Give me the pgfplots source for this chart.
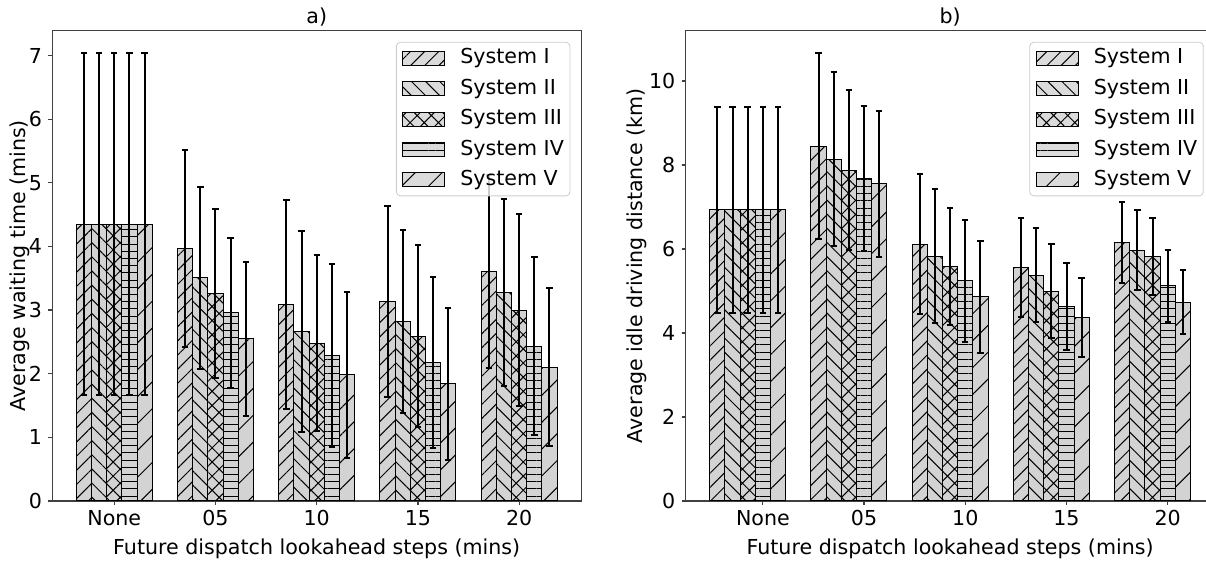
\documentclass[border=0pt]{standalone}
\usepackage{fontspec}
\setmainfont{DejaVu Sans}
\usepackage{pgfplots}
\usepackage{pgfplotstable}
\pgfplotsset{compat=1.18}
\usetikzlibrary{patterns.meta}

\definecolor{barfill}{HTML}{D3D3D3}

% mean and std per lookahead group (g: 0=None, 1=05, 2=10, 3=15, 4=20)
\pgfplotstableread{
g m1 e1 m2 e2 m3 e3 m4 e4 m5 e5
0 4.35 2.69 4.35 2.69 4.35 2.69 4.35 2.69 4.35 2.69
1 3.97 1.55 3.51 1.43 3.26 1.33 2.96 1.18 2.55 1.21
2 3.09 1.64 2.67 1.58 2.48 1.38 2.29 1.44 1.98 1.31
3 3.14 1.50 2.82 1.44 2.59 1.43 2.18 1.34 1.84 1.20
4 3.61 1.52 3.27 1.47 3.00 1.51 2.43 1.40 2.10 1.24
}\waittable

\pgfplotstableread{
g m1 e1 m2 e2 m3 e3 m4 e4 m5 e5
0 6.93 2.46 6.93 2.46 6.93 2.46 6.93 2.46 6.93 2.46
1 8.45 2.22 8.14 2.07 7.88 1.91 7.68 1.72 7.55 1.74
2 6.12 1.66 5.83 1.60 5.58 1.39 5.24 1.45 4.86 1.33
3 5.56 1.17 5.38 1.12 4.99 1.12 4.63 1.04 4.37 0.94
4 6.16 0.96 5.97 0.95 5.82 0.92 5.12 0.86 4.73 0.76
}\idletable

\pgfplotsset{
  sysbase/.style={draw=black, line width=0.5pt, fill=barfill, bar shift=0pt, bar width=0.15,
    legend image code/.code={\draw[##1, sharp corners] (0pt,-3.5pt) rectangle (21pt,3.5pt);},
    error bars/y dir=both, error bars/y explicit,
    error bars/error bar style={line width=1pt, black},
    error bars/error mark options={rotate=90, mark size=1.6pt, line width=1pt, black}},
  sysI/.style={sysbase, postaction={pattern color=black, pattern={Lines[angle=45,distance=5pt,line width=0.5pt]}}},
  sysII/.style={sysbase, postaction={pattern color=black, pattern={Lines[angle=-45,distance=5pt,line width=0.5pt]}}},
  sysIII/.style={sysbase, postaction={pattern color=black, pattern={Hatch[angle=45,distance=5pt,line width=0.5pt]}}},
  sysIV/.style={sysbase, postaction={pattern color=black, pattern={Lines[angle=0,distance=3.6pt,line width=0.5pt]}}},
  sysV/.style={sysbase, postaction={pattern color=black, pattern={Lines[angle=45,distance=9.5pt,line width=0.5pt]}}},
  panel/.style={
    scale only axis, width=264.4pt, height=235.15pt, anchor=south west,
    ybar, ymin=0,
    xtick={0,...,4}, xticklabels={None,05,10,15,20},
    tick align=outside, major tick length=2pt,
    xtick pos=bottom, ytick pos=left,
    axis line style={black!75, line width=0.6pt},
    every tick/.style={black!75, line width=0.6pt},
    /pgf/number format/assume math mode=true,
    yticklabel style={anchor=east, inner sep=0pt, xshift=-3pt},
    xticklabel style={anchor=base, inner sep=0pt, yshift=-10.5pt},
    xlabel={Future dispatch lookahead steps (mins)},
    xlabel style={at={(axis description cs:0.5,0)}, anchor=base, yshift=-26.8pt},
    every axis title/.style={at={(axis description cs:0.5,1)}, anchor=base, yshift=3.6pt},
    legend cell align=left,
    legend style={at={(1,1)}, anchor=north east, xshift=-5.4pt, yshift=-5.6pt,
      draw=black!20, rounded corners=2pt, fill=white, fill opacity=0.8, text opacity=1,
      inner sep=3pt, row sep=5.2pt, column sep=7.5pt,
      nodes={inner sep=0pt, text height=7.8pt, text depth=2.2pt}},
  },
}

\begin{document}
\begin{tikzpicture}[font=\fontsize{10.3}{12.4}\selectfont]
\path[use as bounding box] (-26.15pt,-30pt) rectangle (576.85pt,250.5pt);

\begin{axis}[panel, at={(0pt,0pt)},
  xmin=-0.6125, xmax=4.6125, ymax=7.39, ytick={0,...,7},
  title={a)},
  ylabel={Average waiting time (mins)},
  ylabel style={at={(axis description cs:-0.0605,0.5)}, anchor=center},
]
\addplot[sysI]   table[x expr=\thisrow{g}-0.30, y=m1, y error=e1] {\waittable};
\addlegendentry{System I}
\addplot[sysII]  table[x expr=\thisrow{g}-0.15, y=m2, y error=e2] {\waittable};
\addlegendentry{System II}
\addplot[sysIII] table[x expr=\thisrow{g},      y=m3, y error=e3] {\waittable};
\addlegendentry{System III}
\addplot[sysIV]  table[x expr=\thisrow{g}+0.15, y=m4, y error=e4] {\waittable};
\addlegendentry{System IV}
\addplot[sysV]   table[x expr=\thisrow{g}+0.30, y=m5, y error=e5] {\waittable};
\addlegendentry{System V}
\end{axis}

\begin{axis}[panel, at={(316.7pt,0pt)},
  xmin=-0.7625, xmax=4.4625, ymax=11.2, ytick={0,2,...,10},
  title={b)},
  ylabel={Average idle driving distance (km)},
  ylabel style={at={(axis description cs:-0.0926,0.5)}, anchor=center},
]
\addplot[sysI]   table[x expr=\thisrow{g}-0.45, y=m1, y error=e1] {\idletable};
\addlegendentry{System I}
\addplot[sysII]  table[x expr=\thisrow{g}-0.30, y=m2, y error=e2] {\idletable};
\addlegendentry{System II}
\addplot[sysIII] table[x expr=\thisrow{g}-0.15, y=m3, y error=e3] {\idletable};
\addlegendentry{System III}
\addplot[sysIV]  table[x expr=\thisrow{g},      y=m4, y error=e4] {\idletable};
\addlegendentry{System IV}
\addplot[sysV]   table[x expr=\thisrow{g}+0.15, y=m5, y error=e5] {\idletable};
\addlegendentry{System V}
\end{axis}
\end{tikzpicture}
\end{document}
